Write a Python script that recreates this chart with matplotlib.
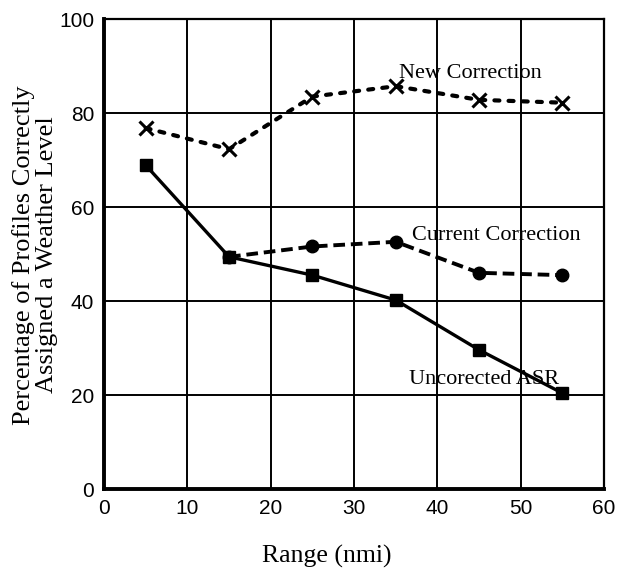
import matplotlib
matplotlib.use("Agg")
import matplotlib.pyplot as plt

# values
range_nmi = [5, 15, 25, 35, 45, 55]
new_correction = [76.8, 72.3, 83.5, 85.7, 82.8, 82.2]
current_x = [15, 25, 35, 45, 55]
current_correction = [49.4, 51.6, 52.6, 46.0, 45.5]
uncorrected_asr = [68.9, 49.4, 45.5, 40.2, 29.6, 20.4]

x_ticks = [0, 10, 20, 30, 40, 50, 60]
y_ticks = [0, 20, 40, 60, 80, 100]

serif = "Liberation Serif"
sans = "Liberation Sans"

fig = plt.figure(figsize=(6.17, 5.71), dpi=100)
ax = fig.add_axes([0.1686, 0.1436, 0.8104, 0.8231])

ax.plot(range_nmi, new_correction, color="black", linestyle=(0, (1.2, 2.2)),
        linewidth=3, marker="x", markersize=10, markeredgewidth=2.2,
        dash_capstyle="round")
ax.plot(current_x, current_correction, color="black", linestyle=(0, (3, 1.5)),
        linewidth=2.8, marker="o", markersize=9)
ax.plot(range_nmi, uncorrected_asr, color="black", linestyle="-",
        linewidth=2.4, marker="s", markersize=8)

ax.text(35.4, 87.4, "New Correction", fontsize=16, family=serif)
ax.text(37.0, 53.0, "Current Correction", fontsize=16, family=serif)
ax.text(36.6, 22.4, "Uncorected ASR", fontsize=16, family=serif)

ax.set_xlim(0, 60)
ax.set_ylim(0, 100)
ax.set_xticks(x_ticks)
ax.set_yticks(y_ticks)
ax.tick_params(length=0, labelsize=15, pad=7)
for lab in ax.get_xticklabels() + ax.get_yticklabels():
    lab.set_family(sans)

ax.grid(True, color="black", linewidth=1.4)
ax.set_axisbelow(True)
for side in ax.spines.values():
    side.set_linewidth(1.6)
ax.spines["bottom"].set_linewidth(2.8)
ax.spines["left"].set_linewidth(2.8)

fig.text(327 / 617, 1 - 556 / 571, "Range (nmi)", fontsize=18.5, family=serif,
         ha="center", va="center")
fig.text(35 / 617, 1 - 255 / 571,
         "Percentage of Profiles Correctly\nAssigned a Weather Level",
         fontsize=19, family=serif, rotation=90, ha="center", va="center",
         linespacing=1.1, multialignment="center")

fig.savefig("out.png", dpi=100)
